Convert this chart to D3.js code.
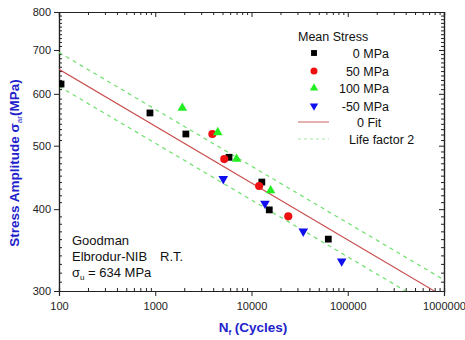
<!DOCTYPE html>
<html>
<head>
<meta charset="utf-8">
<script src="https://cdn.jsdelivr.net/npm/d3@7"></script>
<style>
  body { margin: 0; background: #fff; }
  svg { display: block; font-family: "Liberation Sans", Arial, sans-serif; }
</style>
</head>
<body>
<div id="chart"></div>
<script>
// S-N data
const cycles0 = [105, 881, 2080, 5840, 12800, 15300, 62800];
const stress0 = [621, 561, 521, 480, 440, 399, 360];
const cycles50 = [3920, 5210, 12000, 24100];
const stress50 = [521, 477, 434, 390];
const cycles100 = [1910, 4460, 7000, 15800];
const stress100 = [571, 524, 477, 427];
const cyclesM50 = [5090, 13800, 34500, 86500];
const stressM50 = [445, 408, 370, 333];

// fit line and life factor 2 band (end points)
const lineCycles = [100, 1000000];
const fitStress = [654, 294];
const upperStress = [694, 312];
const lowerStress = [616, 277];

const xTicks = [100, 1000, 10000, 100000, 1000000];
const yTicks = [300, 400, 500, 600, 700, 800];

const W = 465, H = 340;
const margin = { left: 59, right: 21, top: 12, bottom: 49 };
const width = W - margin.left - margin.right;
const height = H - margin.top - margin.bottom;

const svg = d3.select('#chart').append('svg')
  .attr('width', W)
  .attr('height', H);

const g = svg.append('g')
  .attr('transform', `translate(${margin.left},${margin.top})`);

const x = d3.scaleLog().domain([100, 1000000]).range([0, width]);
const y = d3.scaleLog().domain([300, 800]).range([height, 0]);

svg.append('defs').append('clipPath').attr('id', 'plot-clip')
  .append('rect').attr('width', width).attr('height', height);

// minor ticks
const xMinor = [];
for (let d = 100; d < 1000000; d *= 10) {
  for (let k = 2; k <= 9; k++) xMinor.push(d * k);
}
const yMinor = d3.range(310, 800, 10).filter(v => v % 100 !== 0);

const axisColor = '#222';

function styleAxis(sel) {
  sel.selectAll('path, line').attr('stroke', axisColor);
  sel.selectAll('text').attr('fill', '#222').attr('font-size', '11px');
}

// bottom
g.append('g').attr('transform', `translate(0,${height})`)
  .call(d3.axisBottom(x).tickValues(xTicks).tickFormat(d3.format('d')).tickSize(5).tickPadding(6))
  .call(styleAxis);
g.append('g').attr('transform', `translate(0,${height})`)
  .call(d3.axisBottom(x).tickValues(xMinor).tickFormat('').tickSize(-3))
  .call(styleAxis);

// top
g.append('g')
  .call(d3.axisTop(x).tickValues(xTicks).tickFormat('').tickSize(-5))
  .call(styleAxis);
g.append('g')
  .call(d3.axisTop(x).tickValues(xMinor).tickFormat('').tickSize(-3))
  .call(styleAxis);

// left
g.append('g')
  .call(d3.axisLeft(y).tickValues(yTicks).tickFormat(d3.format('d')).tickSize(5).tickPadding(3))
  .call(styleAxis);
g.append('g')
  .call(d3.axisLeft(y).tickValues(yMinor).tickFormat('').tickSize(-3))
  .call(styleAxis);

// right
g.append('g').attr('transform', `translate(${width},0)`)
  .call(d3.axisRight(y).tickValues(yTicks).tickFormat('').tickSize(-5))
  .call(styleAxis);
g.append('g').attr('transform', `translate(${width},0)`)
  .call(d3.axisRight(y).tickValues(yMinor).tickFormat('').tickSize(-3))
  .call(styleAxis);

g.selectAll('.domain').attr('stroke-width', 1.2);

// lines
const lineGen = d3.line().x(d => x(d[0])).y(d => y(d[1]));
const plot = g.append('g').attr('clip-path', 'url(#plot-clip)');

const bandColor = '#6ee06e';
plot.append('path')
  .attr('d', lineGen(d3.zip(lineCycles, upperStress)))
  .attr('fill', 'none').attr('stroke', bandColor).attr('stroke-width', 1.2)
  .attr('stroke-dasharray', '4,4');
plot.append('path')
  .attr('d', lineGen(d3.zip(lineCycles, lowerStress)))
  .attr('fill', 'none').attr('stroke', bandColor).attr('stroke-width', 1.2)
  .attr('stroke-dasharray', '4,4');
plot.append('path')
  .attr('d', lineGen(d3.zip(lineCycles, fitStress)))
  .attr('fill', 'none').attr('stroke', '#c84a4a').attr('stroke-width', 1.1);

// markers
const series = [
  { n: cycles0, s: stress0, sym: d3.symbolSquare, size: 46, color: '#000000', rot: 0 },
  { n: cycles50, s: stress50, sym: d3.symbolCircle, size: 52, color: '#ee1111', rot: 0 },
  { n: cycles100, s: stress100, sym: d3.symbolTriangle, size: 40, color: '#22ee22', rot: 0 },
  { n: cyclesM50, s: stressM50, sym: d3.symbolTriangle, size: 40, color: '#1010ee', rot: 180 }
];

series.forEach(ser => {
  plot.append('g').selectAll('path')
    .data(d3.zip(ser.n, ser.s))
    .join('path')
    .attr('d', d3.symbol().type(ser.sym).size(ser.size))
    .attr('transform', d => `translate(${x(d[0])},${y(d[1])}) rotate(${ser.rot})`)
    .attr('fill', ser.color);
});

// legend
const legend = svg.append('g').attr('font-size', '12.5px').attr('fill', '#111');
legend.append('text').attr('x', 298).attr('y', 41).text('Mean Stress');
const legendY = [53, 71, 88, 106];
const legendLabels = ['0 MPa', '50 MPa', '100 MPa', '-50 MPa'];
series.forEach((ser, i) => {
  legend.append('path')
    .attr('d', d3.symbol().type(ser.sym).size(ser.size * 0.75))
    .attr('transform', `translate(314,${legendY[i]}) rotate(${ser.rot})`)
    .attr('fill', ser.color);
  legend.append('text')
    .attr('x', 389).attr('y', legendY[i] + 4.5)
    .attr('text-anchor', 'end')
    .text(legendLabels[i]);
});
legend.append('line')
  .attr('x1', 298).attr('x2', 329).attr('y1', 122).attr('y2', 122)
  .attr('stroke', '#d07070').attr('stroke-width', 1.1);
legend.append('text').attr('x', 357).attr('y', 126.5).text('0 Fit');
legend.append('line')
  .attr('x1', 298).attr('x2', 329).attr('y1', 139).attr('y2', 139)
  .attr('stroke', '#a8eaa8').attr('stroke-width', 1.1).attr('stroke-dasharray', '3,3');
legend.append('text').attr('x', 349).attr('y', 143.5).text('Life factor 2');

// annotation
const note = svg.append('g').attr('font-size', '13px').attr('fill', '#111');
note.append('text').attr('x', 72).attr('y', 245).text('Goodman');
note.append('text').attr('x', 72).attr('y', 261).text('Elbrodur-NIB');
note.append('text').attr('x', 160).attr('y', 261).text('R.T.');
const sig = note.append('text').attr('x', 72).attr('y', 277);
sig.append('tspan').text('σ');
sig.append('tspan').attr('font-size', '8px').attr('dy', 3).text('u');
sig.append('tspan').attr('dy', -3).text(' = 634 MPa');

// axis titles
const titleColor = '#2222cc';
const xt = svg.append('text')
  .attr('x', 253).attr('y', 332)
  .attr('text-anchor', 'middle')
  .attr('font-size', '13.5px').attr('font-weight', 'bold').attr('fill', titleColor);
xt.append('tspan').text('N');
xt.append('tspan').attr('font-size', '8px').attr('dy', 3).text('f');
xt.append('tspan').attr('dy', -3).text(' (Cycles)');

const yt = svg.append('text')
  .attr('transform', 'rotate(-90)')
  .attr('x', -163).attr('y', 19)
  .attr('text-anchor', 'middle')
  .attr('font-size', '13.5px').attr('font-weight', 'bold').attr('fill', titleColor);
yt.append('tspan').text('Stress Amplitude σ');
yt.append('tspan').attr('font-size', '8px').attr('font-weight', 'normal').attr('dy', 3).text('ar');
yt.append('tspan').attr('dy', -3).text('(MPa)');
</script>
</body>
</html>
